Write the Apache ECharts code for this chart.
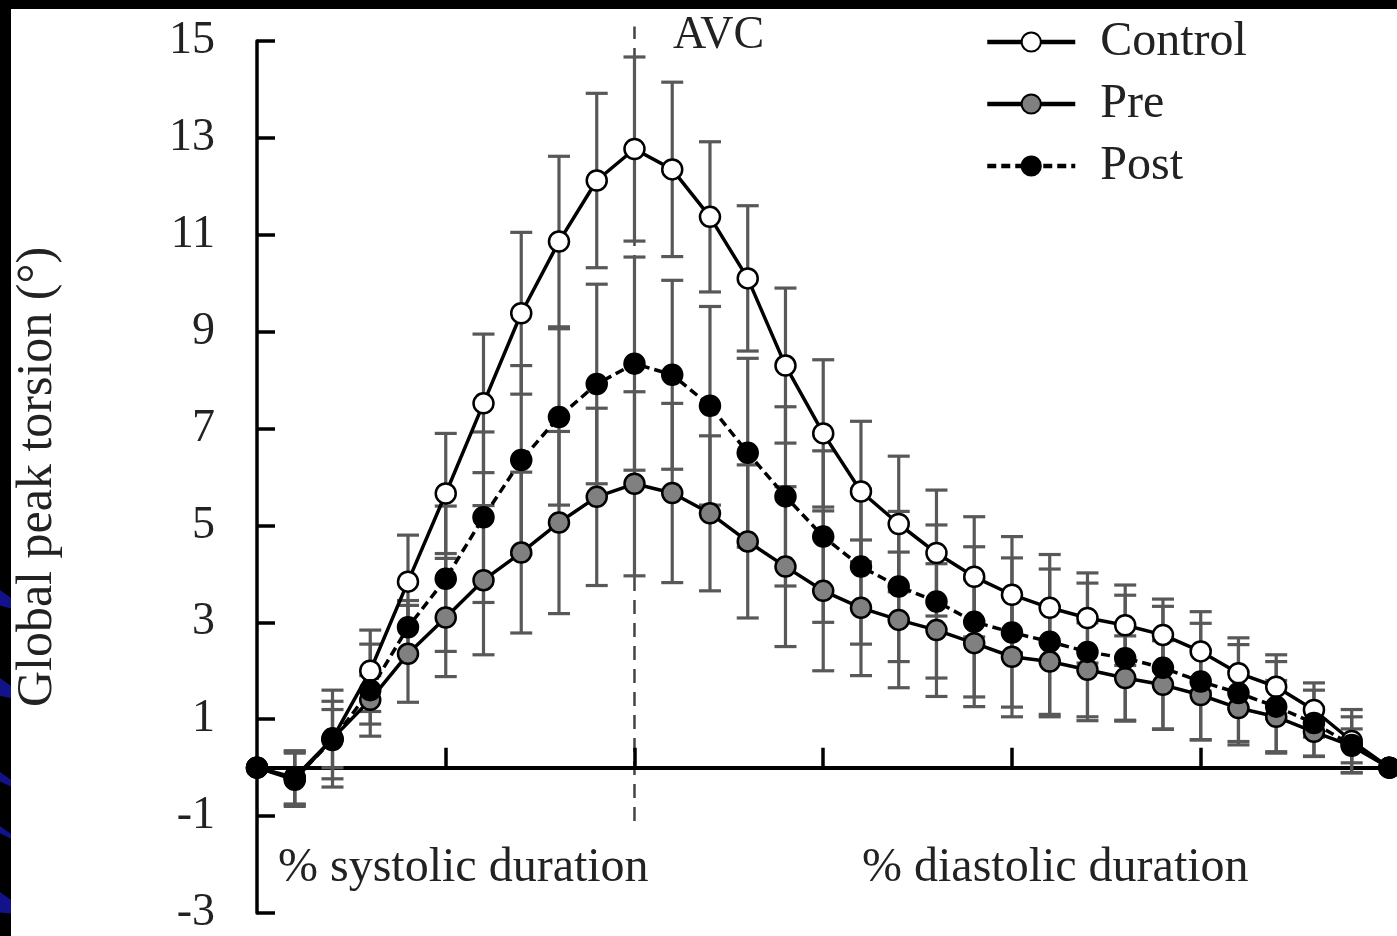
<!DOCTYPE html>
<html>
<head>
<meta charset="utf-8">
<script src="https://cdn.jsdelivr.net/npm/echarts@6/dist/echarts.min.js"></script>
<style>
  html, body { margin: 0; padding: 0; background: #fff; }
  #chart { width: 1397px; height: 936px; }
</style>
</head>
<body>
<div id="chart"></div>
<script>
// Sample positions: 0-10 = systole (0..100 %), 10-30 = diastole (0..100 %)
const timePoints = [0, 1, 2, 3, 4, 5, 6, 7, 8, 9, 10, 11, 12, 13, 14, 15, 16, 17, 18, 19, 20, 21, 22, 23, 24, 25, 26, 27, 28, 29, 30];
const avcPoint = 10;
const avcSpan = [-1.1, 15.3];

// Global peak torsion (degrees), mean values
const controlMean = [0, -0.25, 0.6, 2.0, 3.84, 5.66, 7.52, 9.38, 10.86, 12.12, 12.77, 12.35, 11.37, 10.1, 8.3, 6.9, 5.7, 5.03, 4.43, 3.94, 3.57, 3.3, 3.09, 2.94, 2.74, 2.4, 1.95, 1.67, 1.19, 0.55, 0];
const preMean     = [0, -0.2, 0.6, 1.4, 2.35, 3.1, 3.87, 4.44, 5.06, 5.59, 5.86, 5.67, 5.25, 4.67, 4.15, 3.65, 3.3, 3.05, 2.84, 2.57, 2.29, 2.19, 2.02, 1.85, 1.71, 1.5, 1.23, 1.05, 0.74, 0.45, 0];
const postMean    = [0, -0.22, 0.57, 1.6, 2.9, 3.9, 5.17, 6.35, 7.24, 7.92, 8.34, 8.11, 7.47, 6.5, 5.6, 4.77, 4.15, 3.74, 3.43, 3.01, 2.79, 2.6, 2.39, 2.26, 2.06, 1.78, 1.54, 1.26, 0.92, 0.47, 0];

// Standard deviations
const controlSd = [0, 0.55, 1.0, 0.84, 0.96, 1.24, 1.43, 1.67, 1.76, 1.8, 1.9, 1.8, 1.55, 1.5, 1.6, 1.52, 1.45, 1.4, 1.3, 1.24, 1.2, 1.1, 0.93, 0.83, 0.74, 0.82, 0.73, 0.66, 0.56, 0.65, 0];
const preSd     = [0, 0.55, 0.6, 0.5, 1.0, 1.22, 1.54, 1.66, 1.88, 1.83, 1.9, 1.85, 1.6, 1.58, 1.65, 1.65, 1.4, 1.4, 1.37, 1.31, 1.24, 1.14, 0.97, 0.87, 0.91, 0.93, 0.76, 0.75, 0.51, 0.35, 0];
const postSd    = [0, 0.55, 0.8, 0.95, 0.55, 1.5, 1.76, 1.95, 1.82, 2.06, 2.2, 1.95, 2.05, 1.95, 1.85, 1.77, 1.6, 1.55, 1.58, 1.55, 1.54, 1.5, 1.42, 1.3, 1.27, 1.2, 1.0, 0.93, 0.68, 0.58, 0];

const yTicks = [-3, -1, 1, 3, 5, 7, 9, 11, 13, 15];
const xTicks = [5, 10, 15, 20, 25];
const seriesNames = ['Control', 'Pre', 'Post'];

const SERIF = '"Liberation Serif", "Times New Roman", serif';
const TEXT = '#222';

// Vertical error bar with caps, one per sample
function errorBars(name, mean, sd) {
  return {
    type: 'custom',
    name: name + ' SD',
    silent: true,
    z: 1,
    encode: { x: 0, y: [1, 2] },
    data: timePoints.map((t, i) => [t, mean[i] - sd[i], mean[i] + sd[i], sd[i]]),
    renderItem(params, api) {
      if (api.value(3) <= 0) return null;
      const x = api.value(0);
      const lo = api.coord([x, api.value(1)]);
      const hi = api.coord([x, api.value(2)]);
      const hw = 11;
      const style = { stroke: '#585858', lineWidth: 3.2 };
      return {
        type: 'group',
        children: [
          { type: 'line', shape: { x1: lo[0], y1: lo[1], x2: hi[0], y2: hi[1] }, style },
          { type: 'line', shape: { x1: lo[0] - hw, y1: lo[1], x2: lo[0] + hw, y2: lo[1] }, style },
          { type: 'line', shape: { x1: hi[0] - hw, y1: hi[1], x2: hi[0] + hw, y2: hi[1] }, style }
        ]
      };
    }
  };
}

function meanLine(name, mean, fill, dashed) {
  return {
    type: 'line',
    name: name,
    z: 3,
    data: timePoints.map((t, i) => [t, mean[i]]),
    symbol: 'circle',
    symbolSize: 20,
    showAllSymbol: true,
    itemStyle: { color: fill, borderColor: '#000', borderWidth: 2.5 },
    lineStyle: { color: '#000', width: 3.5, type: dashed ? [9, 5] : 'solid' },
    emphasis: { disabled: true },
    animation: false
  };
}

// Dashed marker at aortic valve closure
const avcLine = {
  type: 'custom',
  name: 'AVC',
  silent: true,
  z: 0,
  data: [[avcPoint, avcSpan[0], avcSpan[1]]],
  renderItem(params, api) {
    const a = api.coord([api.value(0), api.value(1)]);
    const b = api.coord([api.value(0), api.value(2)]);
    return {
      type: 'line',
      shape: { x1: a[0], y1: a[1], x2: b[0], y2: b[1] },
      style: { stroke: '#444', lineWidth: 2.5, lineDash: [14, 9] }
    };
  }
};

// Dark slide frame along the top and left edges
const frame = [
  { type: 'rect', left: 0, top: 0, shape: { width: 1397, height: 9 }, style: { fill: '#000' }, z: 10 },
  { type: 'rect', left: 0, top: 0, shape: { width: 11, height: 936 }, style: { fill: '#000' }, z: 10 }
];
const streaks = [[590, 26], [678, 30], [772, 16], [826, 12], [892, 34]];
streaks.forEach(([y, h]) => {
  frame.push({
    type: 'polygon', z: 11,
    shape: { points: [[0, y], [11, y + 8], [11, y + 8 + h * 0.4], [0, y + h * 0.6]] },
    style: { fill: '#12128a' }
  });
});

const chart = echarts.init(document.getElementById('chart'), null, { renderer: 'canvas' });
chart.setOption({
  animation: false,
  backgroundColor: '#fff',
  grid: { left: 257, right: 0, top: 41, bottom: 23, containLabel: false, outerBoundsMode: 'none' },
  xAxis: {
    type: 'value',
    min: 0,
    max: 30.2,
    axisLine: { onZero: true, lineStyle: { color: '#000', width: 4 } },
    axisTick: { show: true, inside: true, length: 20, customValues: xTicks, lineStyle: { color: '#000', width: 3.5 } },
    axisLabel: { show: false },
    splitLine: { show: false }
  },
  yAxis: {
    type: 'value',
    min: -3,
    max: 15,
    name: 'Global peak torsion (°)',
    nameLocation: 'middle',
    nameGap: 194,
    nameRotate: 90,
    nameTextStyle: { fontFamily: SERIF, fontSize: 50, color: TEXT },
    axisLine: { show: true, lineStyle: { color: '#000', width: 3.5 } },
    axisTick: { show: true, inside: true, length: 18, customValues: yTicks, lineStyle: { color: '#000', width: 3.5 } },
    axisLabel: { customValues: yTicks, margin: 42, fontFamily: SERIF, fontSize: 46, color: TEXT },
    splitLine: { show: false }
  },
  legend: {
    orient: 'vertical',
    left: 980,
    top: 12,
    itemWidth: 88,
    itemHeight: 24,
    itemGap: 12,
    selectedMode: false,
    data: seriesNames,
    lineStyle: { width: 4.5 },
    textStyle: { fontFamily: SERIF, fontSize: 48, color: TEXT, lineHeight: 50, padding: [0, 0, 0, 20] }
  },
  series: [
    avcLine,
    errorBars('Control', controlMean, controlSd),
    errorBars('Pre', preMean, preSd),
    errorBars('Post', postMean, postSd),
    meanLine('Control', controlMean, '#fff', false),
    meanLine('Pre', preMean, '#808080', false),
    meanLine('Post', postMean, '#000', true)
  ],
  graphic: frame.concat([
    { type: 'text', x: 673, y: 36, style: { text: 'AVC', font: '46px ' + SERIF, fill: TEXT, verticalAlign: 'middle' } },
    { type: 'text', x: 278, y: 868, style: { text: '% systolic duration', font: '48px ' + SERIF, fill: TEXT, verticalAlign: 'middle' } },
    { type: 'text', x: 862, y: 868, style: { text: '% diastolic duration', font: '48px ' + SERIF, fill: TEXT, verticalAlign: 'middle' } }
  ])
});
</script>
</body>
</html>
